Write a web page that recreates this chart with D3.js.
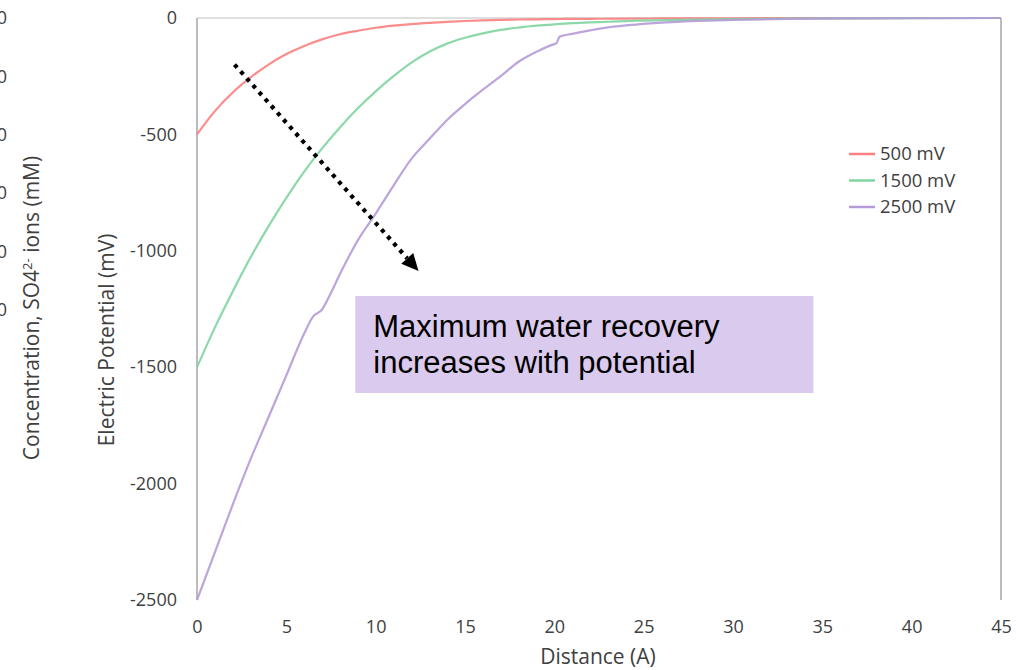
<!DOCTYPE html>
<html>
<head>
<meta charset="utf-8">
<script src="https://cdn.jsdelivr.net/npm/d3@7"></script>
<style>
  body { margin: 0; background: #fff; }
  svg { display: block; }
  .tick text { font-family: "Open Sans", sans-serif; font-size: 18px; fill: #404040; }
  .title { font-family: "Open Sans", sans-serif; font-size: 21px; fill: #404040; }
  .legend text { font-family: "Open Sans", sans-serif; font-size: 18.5px; fill: #404040; }
  .note { font-family: "Liberation Sans", Arial, sans-serif; font-size: 31px; fill: #000; }
</style>
</head>
<body>
<svg width="1026" height="670"></svg>
<script>
// distance (A) and electric potential (mV)
var dist500 = [0, 1, 2, 3, 4, 5, 6, 7, 8, 9, 10, 11, 12, 13, 14, 15, 16, 17, 18, 19, 20, 22, 24, 26, 28, 30, 35, 40, 45];
var pot500 = [-500, -400, -320, -255, -200, -155, -120, -92, -70, -55, -42, -33, -26, -21, -17, -13, -10, -8, -6.5, -5.5, -4.5, -3.5, -2.5, -2, -1.5, -1, -0.5, 0, 0];

var dist1500 = [0, 1, 2, 3, 4, 5, 6, 7, 8, 9, 10, 11, 12, 13, 14, 15, 16, 17, 18, 19, 20, 21, 22, 23, 24, 25, 27, 30, 33, 36, 40, 45];
var pot1500 = [-1500, -1330, -1175, -1028, -895, -773, -660, -560, -470, -388, -315, -250, -192, -145, -110, -85, -66, -51, -41, -33, -27, -22, -19, -16, -13, -11, -8, -5, -3, -1.5, -0.5, 0];

var dist2500 = [0, 1, 2, 3, 4, 5, 6, 6.5, 7, 7.5, 8, 9, 10, 11, 12, 13, 14, 15, 16, 17, 18, 19, 20, 20.1, 20.3, 21, 22, 23, 24, 25, 26, 28, 30, 33, 36, 40, 45];
var pot2500 = [-2500, -2295, -2090, -1895, -1715, -1535, -1355, -1282, -1252, -1180, -1100, -955, -840, -720, -605, -520, -438, -370, -308, -250, -188, -145, -112, -110, -80, -68, -53, -40, -32, -25, -20, -12, -8, -4, -2, -1, 0];

var seriesNames = ["500 mV", "1500 mV", "2500 mV"];
var seriesColors = ["#fa8080", "#80d4a0", "#b49bd8"];

var xTicks = [0, 5, 10, 15, 20, 25, 30, 35, 40, 45];
var yTicks = [0, -500, -1000, -1500, -2000, -2500];
// the chart to the left is cut off, only the last digit of its labels shows
var concTicks = [120, 100, 80, 60, 40, 20];

var noteLines = ["Maximum water recovery", "increases with potential"];

var svg = d3.select("svg");
var plotLeft = 197, plotTop = 18, plotRight = 1001, plotBottom = 600;

var xScale = d3.scaleLinear().domain([0, 45]).range([plotLeft, plotRight]);
var yScale = d3.scaleLinear().domain([-2500, 0]).range([plotBottom, plotTop]);
var concScale = d3.scaleLinear().domain([120, 20]).range([18, 310]);
var plain = d => String(d);

// partial axis of the neighbouring chart
svg.append("g")
    .attr("transform", "translate(7,0)")
    .call(d3.axisLeft(concScale).tickValues(concTicks).tickFormat(plain).tickSize(0).tickPadding(0))
    .call(g => g.select(".domain").remove());

var conc = svg.append("text")
    .attr("class", "title")
    .attr("transform", "translate(39,308) rotate(-90)")
    .attr("text-anchor", "middle");
conc.append("tspan").text("Concentration, SO4");
conc.append("tspan").attr("font-size", 13).attr("dy", -7).text("2-");
conc.append("tspan").attr("dy", 7).text(" ions (mM)");

// frame lines
svg.append("line").attr("x1", plotLeft).attr("x2", plotLeft).attr("y1", plotTop).attr("y2", plotBottom)
    .attr("stroke", "#a6a6a6").attr("stroke-width", 1.5);
svg.append("line").attr("x1", plotRight).attr("x2", plotRight).attr("y1", plotTop).attr("y2", plotBottom)
    .attr("stroke", "#a6a6a6").attr("stroke-width", 1.5);
svg.append("line").attr("x1", plotLeft).attr("x2", plotRight).attr("y1", yScale(0)).attr("y2", yScale(0))
    .attr("stroke", "#bfbfbf").attr("stroke-width", 1);

// axes
svg.append("g")
    .attr("transform", "translate(0," + (plotBottom + 12) + ")")
    .call(d3.axisBottom(xScale).tickValues(xTicks).tickFormat(plain).tickSize(0).tickPadding(8))
    .call(g => g.select(".domain").remove());

svg.append("g")
    .attr("transform", "translate(" + (plotLeft - 20) + ",0)")
    .call(d3.axisLeft(yScale).tickValues(yTicks).tickFormat(plain).tickSize(0).tickPadding(0))
    .call(g => g.select(".domain").remove());

svg.append("text").attr("class", "title")
    .attr("x", 598).attr("y", 664)
    .attr("text-anchor", "middle")
    .text("Distance (A)");

svg.append("text").attr("class", "title")
    .attr("transform", "translate(114,340) rotate(-90)")
    .attr("text-anchor", "middle")
    .text("Electric Potential (mV)");

// curves
var series = [
    d3.zip(dist500, pot500),
    d3.zip(dist1500, pot1500),
    d3.zip(dist2500, pot2500)
];

var line = d3.line()
    .x(d => xScale(d[0]))
    .y(d => yScale(d[1]))
    .curve(d3.curveMonotoneX);

svg.append("g").selectAll("path")
    .data(series)
    .enter()
    .append("path")
    .attr("d", line)
    .attr("fill", "none")
    .attr("stroke", (d, i) => seriesColors[i])
    .attr("stroke-width", 2.2)
    .attr("stroke-opacity", 0.9);

// legend
var legend = svg.append("g").attr("class", "legend")
    .selectAll("g")
    .data(seriesNames)
    .enter()
    .append("g")
    .attr("transform", (d, i) => "translate(849," + (154 + i * 26.5) + ")");

legend.append("line")
    .attr("x1", 0).attr("x2", 26)
    .attr("stroke", (d, i) => seriesColors[i])
    .attr("stroke-width", 2.5);

legend.append("text")
    .attr("x", 31).attr("dy", "0.35em")
    .text(d => d);

// dotted arrow, in data units
var arrowFrom = [2.1, -200], arrowTo = [12.4, -1087];
var x1 = xScale(arrowFrom[0]), y1 = yScale(arrowFrom[1]);
var x2 = xScale(arrowTo[0]), y2 = yScale(arrowTo[1]);
var ang = Math.atan2(y2 - y1, x2 - x1);
var headLen = 17, headW = 8;
var bx = x2 - headLen * Math.cos(ang), by = y2 - headLen * Math.sin(ang);

svg.append("line")
    .attr("x1", x1).attr("y1", y1).attr("x2", bx).attr("y2", by)
    .attr("stroke", "#000").attr("stroke-width", 4.2)
    .attr("stroke-dasharray", "4,5.2");

svg.append("path")
    .attr("d", "M" + x2 + "," + y2 +
        "L" + (bx + headW * Math.sin(ang)) + "," + (by - headW * Math.cos(ang)) +
        "L" + (bx - headW * Math.sin(ang)) + "," + (by + headW * Math.cos(ang)) + "Z")
    .attr("fill", "#000");

// annotation box
var boxX0 = xScale(8.86), boxX1 = xScale(34.5);
var boxY0 = yScale(-1194), boxY1 = yScale(-1611);
svg.append("rect")
    .attr("x", boxX0).attr("y", boxY0)
    .attr("width", boxX1 - boxX0).attr("height", boxY1 - boxY0)
    .attr("fill", "#dacbee");

svg.append("g").selectAll("text")
    .data(noteLines)
    .enter()
    .append("text")
    .attr("class", "note")
    .attr("x", boxX0 + 18)
    .attr("y", (d, i) => boxY0 + 41 + i * 36)
    .text(d => d);
</script>
</body>
</html>
